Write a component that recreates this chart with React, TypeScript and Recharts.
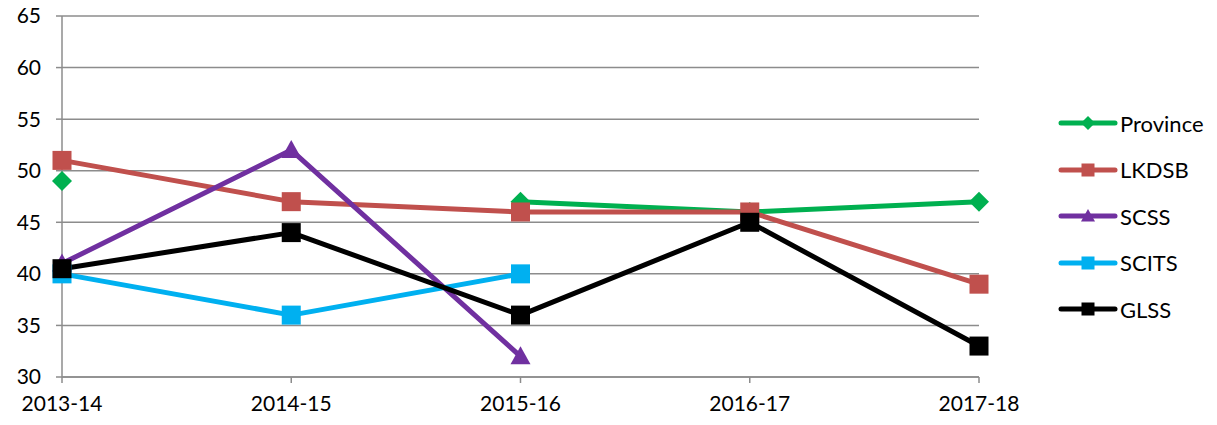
import React from "react";
import { LineChart, Line, XAxis, YAxis, CartesianGrid, Legend } from "recharts";

const categories = ["2013-14", "2014-15", "2015-16", "2016-17", "2017-18"];
const province: (number | null)[] = [49, null, 47, 46, 47];
const lkdsb: (number | null)[] = [51, 47, 46, 46, 39];
const scss: (number | null)[] = [41, 52, 32, null, null];
const scits: (number | null)[] = [40, 36, 40, null, null];
const glss: (number | null)[] = [40.5, 44, 36, 45, 33];
const yTicks = [30, 35, 40, 45, 50, 55, 60, 65];

const data = categories.map((c, i) => ({
  cat: c,
  Province: province[i],
  LKDSB: lkdsb[i],
  SCSS: scss[i],
  SCITS: scits[i],
  GLSS: glss[i],
}));

type Shape = "diamond" | "square" | "triangle";

const series: { key: string; color: string; shape: Shape }[] = [
  { key: "Province", color: "#00B050", shape: "diamond" },
  { key: "LKDSB", color: "#C0504D", shape: "square" },
  { key: "SCSS", color: "#7030A0", shape: "triangle" },
  { key: "SCITS", color: "#00B0F0", shape: "square" },
  { key: "GLSS", color: "#000000", shape: "square" },
];

const FONT = "Lato, 'Open Sans', sans-serif";
const LEGEND_W = 160;

function marker(shape: Shape, cx: number, cy: number, color: string, s: number, key?: any) {
  if (shape === "diamond") {
    return (
      <path key={key} d={`M${cx},${cy - s} L${cx + s},${cy} L${cx},${cy + s} L${cx - s},${cy} Z`} fill={color} />
    );
  }
  if (shape === "triangle") {
    return (
      <path key={key} d={`M${cx},${cy - s} L${cx + s},${cy + s * 0.8} L${cx - s},${cy + s * 0.8} Z`} fill={color} />
    );
  }
  return <rect key={key} x={cx - s} y={cy - s} width={2 * s} height={2 * s} fill={color} />;
}

const makeDot = (shape: Shape, color: string) => (props: any) => {
  const { cx, cy, index, value } = props;
  if (value == null || cx == null || cy == null || isNaN(cy)) return <g key={index} />;
  const s = shape === "diamond" ? 10 : shape === "triangle" ? 10 : 9.5;
  return marker(shape, cx, cy, color, s, index);
};

const LegendContent = () => (
  <div style={{ fontFamily: FONT, fontSize: 22, color: "#000" }}>
    {series.map((s) => (
      <div key={s.key} style={{ height: 46.5, display: "flex", alignItems: "center" }}>
        <svg width={62} height={20} style={{ display: "block" }}>
          <line x1={4} y1={10} x2={58} y2={10} stroke={s.color} strokeWidth={5} strokeLinecap="round" />
          {marker(s.shape, 31, 10, s.color, s.shape === "diamond" ? 7 : s.shape === "triangle" ? 7 : 6.5)}
        </svg>
        <span style={{ marginLeft: 1 }}>{s.key}</span>
      </div>
    ))}
  </div>
);

export default function App() {
  return (
    <div style={{ position: "absolute", left: 0, top: 0, background: "#fff" }}>
      <LineChart
        width={1217}
        height={425}
        data={data}
        margin={{ top: 16, right: 238 - LEGEND_W, left: 0, bottom: 0 }}
      >
        <CartesianGrid vertical={false} stroke="#8c8c8c" strokeWidth={1.5} />
        <XAxis
          dataKey="cat"
          height={48}
          tickSize={6}
          tickMargin={13}
          stroke="#8c8c8c"
          strokeWidth={1.5}
          tick={{ fill: "#000", fontSize: 21, fontFamily: FONT }}
          interval={0}
          padding={{ left: 0, right: 0 }}
        />
        <YAxis
          domain={[30, 65]}
          ticks={yTicks}
          width={62}
          tickSize={6}
          tickMargin={15}
          stroke="#8c8c8c"
          strokeWidth={1.5}
          tick={{ fill: "#000", fontSize: 21, fontFamily: FONT }}
          allowDataOverflow
        />
        <Legend
          layout="vertical"
          align="right"
          verticalAlign="top"
          content={<LegendContent />}
          wrapperStyle={{ position: "absolute", left: 1057, top: 100, width: LEGEND_W }}
        />
        {series.map((s) => (
          <Line
            key={s.key}
            dataKey={s.key}
            stroke={s.color}
            strokeWidth={5}
            isAnimationActive={false}
            dot={makeDot(s.shape, s.color)}
            activeDot={false}
            connectNulls={false}
            strokeLinejoin="round"
          />
        ))}
      </LineChart>
    </div>
  );
}
